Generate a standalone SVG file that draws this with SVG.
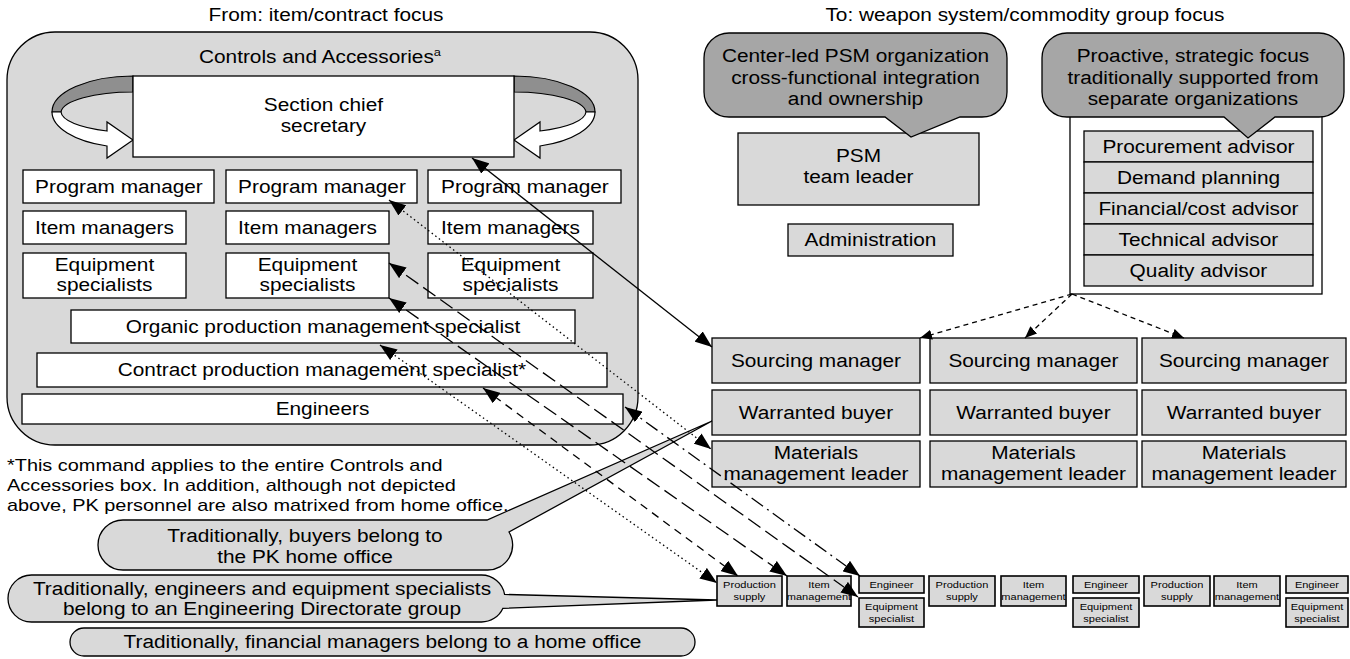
<svg xmlns="http://www.w3.org/2000/svg" width="1350" height="659" viewBox="0 0 1350 659">
<style>
text{font-family:"Liberation Sans",Arial,sans-serif;fill:#000;transform-box:fill-box}
.t{font-size:17.8px;text-anchor:middle;transform:scaleX(1.17);transform-origin:50% 50%}
.f{font-size:17px;text-anchor:start;transform:scaleX(1.17);transform-origin:0% 50%}
.s{font-size:9.6px;text-anchor:middle;transform:scaleX(1.15);transform-origin:50% 50%}
.w{fill:#fff;stroke:#000;stroke-width:1.3}
.g{fill:#d9d9d9;stroke:#000;stroke-width:1.3}
.d{fill:#a6a6a6;stroke:#000;stroke-width:1.3}
.sb{fill:#d9d9d9;stroke:#000;stroke-width:1.6}
.c{fill:none;stroke:#000;stroke-width:1.3}
.solid{marker-start:url(#ah);marker-end:url(#ah)}
.dot{stroke-dasharray:1.5 3;marker-start:url(#ah);marker-end:url(#ah)}
.ld{stroke-dasharray:15 6;marker-start:url(#ah);marker-end:url(#ah)}
.sd{stroke-dasharray:8 6;marker-start:url(#ah);marker-end:url(#ah)}
.dd{stroke-dasharray:14 5 2 5;marker-start:url(#ah);marker-end:url(#ah)}
.fd{stroke-dasharray:5 4;marker-end:url(#ahs)}
</style>
<defs>
<marker id="ah" viewBox="0 0 17 13" refX="17" refY="6.5" markerWidth="17" markerHeight="13" markerUnits="userSpaceOnUse" orient="auto-start-reverse"><path d="M0,0 L17,6.5 L0,13 Z" fill="#000"/></marker>
<marker id="ahs" viewBox="0 0 12 10" refX="12" refY="5" markerWidth="12" markerHeight="10" markerUnits="userSpaceOnUse" orient="auto"><path d="M0,0 L12,5 L0,10 Z" fill="#000"/></marker>
<g id="ribbon">
<path d="M133,76 A81,36 0 0 0 52,112 L61,112 A72,21 0 0 1 133,92 Z" fill="#8f8f8f" stroke="#000" stroke-width="1.2"/>
<path d="M52,112 A81,36 0 0 0 107,146 L107,158 L133,140 L107,122 L107,131 A72,21 0 0 1 61,112 Z" fill="#fff" stroke="#000" stroke-width="1.2"/>
</g>
</defs>

<text class="t" x="326" y="21">From: item/contract focus</text>
<text class="t" x="1025" y="21">To: weapon system/commodity group focus</text>

<g id="controls-accessories">
<rect x="7" y="32" width="631" height="413" rx="48" class="g"/>
<text class="t" x="320" y="63">Controls and Accessories<tspan font-size="11" dy="-7">a</tspan></text>
</g>

<g id="section-chief">
<use href="#ribbon"/>
<use href="#ribbon" transform="translate(647,0) scale(-1,1)"/>
<rect x="133" y="76" width="381" height="81" class="w"/>
<text class="t" x="323.5" y="111">Section chief</text>
<text class="t" x="323.5" y="132">secretary</text>
</g>

<g id="program-manager-1"><rect x="23" y="170" width="191" height="33" class="w"/><text class="t" x="119" y="193">Program manager</text></g>
<g id="program-manager-2"><rect x="226" y="170" width="191" height="33" class="w"/><text class="t" x="322" y="193">Program manager</text></g>
<g id="program-manager-3"><rect x="428" y="170" width="193" height="33" class="w"/><text class="t" x="525" y="193">Program manager</text></g>

<g id="item-managers-1"><rect x="23" y="211" width="163" height="33" class="w"/><text class="t" x="104.5" y="234">Item managers</text></g>
<g id="item-managers-2"><rect x="226" y="211" width="163" height="33" class="w"/><text class="t" x="307.5" y="234">Item managers</text></g>
<g id="item-managers-3"><rect x="428" y="211" width="165" height="33" class="w"/><text class="t" x="510.5" y="234">Item managers</text></g>

<g id="equipment-specialists-1"><rect x="23" y="253" width="163" height="45" class="w"/><text class="t" x="104.5" y="271">Equipment</text><text class="t" x="104.5" y="291">specialists</text></g>
<g id="equipment-specialists-2"><rect x="226" y="253" width="163" height="45" class="w"/><text class="t" x="307.5" y="271">Equipment</text><text class="t" x="307.5" y="291">specialists</text></g>
<g id="equipment-specialists-3"><rect x="428" y="253" width="165" height="45" class="w"/><text class="t" x="510.5" y="271">Equipment</text><text class="t" x="510.5" y="291">specialists</text></g>

<g id="organic-pms"><rect x="71" y="310" width="504" height="33" class="w"/><text class="t" x="323" y="333">Organic production management specialist</text></g>
<g id="contract-pms"><rect x="37" y="353" width="570" height="34" class="w"/><text class="t" x="322" y="376">Contract production management specialist*</text></g>
<g id="engineers"><rect x="22" y="394" width="601" height="30" class="w"/><text class="t" x="322.5" y="415">Engineers</text></g>

<g id="footnote">
<text class="f" x="7" y="471">*This command applies to the entire Controls and</text>
<text class="f" x="7" y="491">Accessories box.  In addition, although not depicted</text>
<text class="f" x="7" y="511">above, PK personnel are also matrixed from home office.</text>
</g>

<g id="psm-team-leader"><rect x="738" y="133" width="241" height="72" class="g"/><text class="t" x="858.5" y="162">PSM</text><text class="t" x="858.5" y="183">team leader</text></g>
<g id="administration"><rect x="788" y="224" width="165" height="32" class="g"/><text class="t" x="870.5" y="246">Administration</text></g>

<g id="advisors">
<rect x="1070" y="100" width="252" height="194" class="w"/>
<rect x="1084" y="131" width="229" height="31" class="g"/><text class="t" x="1198.5" y="153">Procurement advisor</text>
<rect x="1084" y="162" width="229" height="31" class="g"/><text class="t" x="1198.5" y="184">Demand planning</text>
<rect x="1084" y="193" width="229" height="31" class="g"/><text class="t" x="1198.5" y="215">Financial/cost advisor</text>
<rect x="1084" y="224" width="229" height="31" class="g"/><text class="t" x="1198.5" y="246">Technical advisor</text>
<rect x="1084" y="255" width="229" height="31" class="g"/><text class="t" x="1198.5" y="277">Quality advisor</text>
</g>

<g id="callout-center-led">
<path d="M729,33 H982 A25,25 0 0 1 1007,58 V92 A25,25 0 0 1 982,117 H960 L911,137 L885,117 H729 A25,25 0 0 1 704,92 V58 A25,25 0 0 1 729,33 Z" class="d"/>
<text class="t" x="855.5" y="62">Center-led PSM organization</text>
<text class="t" x="855.5" y="84">cross-functional integration</text>
<text class="t" x="855.5" y="105">and ownership</text>
</g>
<g id="callout-proactive">
<path d="M1067,33 H1319 A25,25 0 0 1 1344,58 V92 A25,25 0 0 1 1319,117 H1275 L1248,138 L1224,117 H1067 A25,25 0 0 1 1042,92 V58 A25,25 0 0 1 1067,33 Z" class="d"/>
<text class="t" x="1193" y="62">Proactive, strategic focus</text>
<text class="t" x="1193" y="84">traditionally supported from</text>
<text class="t" x="1193" y="105">separate organizations</text>
</g>

<g id="sourcing-1"><rect x="712" y="338" width="208" height="45" class="g"/><text class="t" x="816" y="367">Sourcing manager</text></g>
<g id="sourcing-2"><rect x="930" y="338" width="207" height="45" class="g"/><text class="t" x="1033.5" y="367">Sourcing manager</text></g>
<g id="sourcing-3"><rect x="1142" y="338" width="204" height="45" class="g"/><text class="t" x="1244" y="367">Sourcing manager</text></g>
<g id="buyer-1"><rect x="712" y="390" width="208" height="45" class="g"/><text class="t" x="816" y="419">Warranted buyer</text></g>
<g id="buyer-2"><rect x="930" y="390" width="207" height="45" class="g"/><text class="t" x="1033.5" y="419">Warranted buyer</text></g>
<g id="buyer-3"><rect x="1142" y="390" width="204" height="45" class="g"/><text class="t" x="1244" y="419">Warranted buyer</text></g>
<g id="materials-1"><rect x="712" y="441" width="208" height="46" class="g"/><text class="t" x="816" y="459">Materials</text><text class="t" x="816" y="480">management leader</text></g>
<g id="materials-2"><rect x="930" y="441" width="207" height="46" class="g"/><text class="t" x="1033.5" y="459">Materials</text><text class="t" x="1033.5" y="480">management leader</text></g>
<g id="materials-3"><rect x="1142" y="441" width="204" height="46" class="g"/><text class="t" x="1244" y="459">Materials</text><text class="t" x="1244" y="480">management leader</text></g>

<g id="production-supply-1"><rect x="717" y="576" width="65" height="30" class="sb"/><text class="s" x="749.5" y="588">Production</text><text class="s" x="749.5" y="600">supply</text></g>
<g id="item-management-1"><rect x="787" y="576" width="64" height="30" class="sb"/><text class="s" x="819" y="588">Item</text><text class="s" x="819" y="600">management</text></g>
<g id="engineer-1"><rect x="859" y="576" width="65" height="17" class="sb"/><text class="s" x="891.5" y="588">Engineer</text></g>
<g id="equipment-specialist-1"><rect x="859" y="598" width="65" height="29" class="sb"/><text class="s" x="891.5" y="610">Equipment</text><text class="s" x="891.5" y="622">specialist</text></g>

<g id="production-supply-2"><rect x="929" y="576" width="66" height="30" class="sb"/><text class="s" x="962" y="588">Production</text><text class="s" x="962" y="600">supply</text></g>
<g id="item-management-2"><rect x="1001" y="576" width="65" height="30" class="sb"/><text class="s" x="1033.5" y="588">Item</text><text class="s" x="1033.5" y="600">management</text></g>
<g id="engineer-2"><rect x="1073" y="576" width="66" height="17" class="sb"/><text class="s" x="1106" y="588">Engineer</text></g>
<g id="equipment-specialist-2"><rect x="1073" y="598" width="66" height="29" class="sb"/><text class="s" x="1106" y="610">Equipment</text><text class="s" x="1106" y="622">specialist</text></g>

<g id="production-supply-3"><rect x="1144" y="576" width="66" height="30" class="sb"/><text class="s" x="1177" y="588">Production</text><text class="s" x="1177" y="600">supply</text></g>
<g id="item-management-3"><rect x="1214" y="576" width="66" height="30" class="sb"/><text class="s" x="1247" y="588">Item</text><text class="s" x="1247" y="600">management</text></g>
<g id="engineer-3"><rect x="1286" y="576" width="62" height="17" class="sb"/><text class="s" x="1317" y="588">Engineer</text></g>
<g id="equipment-specialist-3"><rect x="1286" y="598" width="62" height="29" class="sb"/><text class="s" x="1317" y="610">Equipment</text><text class="s" x="1317" y="622">specialist</text></g>

<g id="callout-buyers">
<path d="M123,520 H487 L712,421 L509,532 A25,25 0 0 1 487,570 H123 A25,25 0 0 1 123,520 Z" class="g"/>
<text class="t" x="305" y="542">Traditionally, buyers belong to</text>
<text class="t" x="305" y="563">the PK home office</text>
</g>
<g id="callout-engineers">
<path d="M31.5,575 H481.5 A23.5,23.5 0 0 1 504.6,594.4 L717,600 L502.8,608.4 A23.5,23.5 0 0 1 481.5,622 H31.5 A23.5,23.5 0 0 1 31.5,575 Z" class="g"/>
<text class="t" x="262" y="595">Traditionally, engineers and equipment specialists</text>
<text class="t" x="262" y="615">belong to an Engineering Directorate group</text>
</g>
<g id="callout-financial">
<rect x="70" y="628" width="625" height="28" rx="14" class="g"/>
<text class="t" x="382.5" y="648">Traditionally, financial managers belong to a home office</text>
</g>

<g id="connectors">
<path class="c fd" d="M1072,294 L920,338"/>
<path class="c fd" d="M1072,294 L1025,338"/>
<path class="c fd" d="M1072,294 L1184,338"/>
<path class="c solid" d="M472,158 L712,347"/>
<path class="c dot" d="M389,200 L711,449"/>
<path class="c ld" d="M389,263 L858,597"/>
<path class="c ld" d="M389,298 L787,576"/>
<path class="c dot" d="M380,345 L717,583"/>
<path class="c sd" d="M483,388 L738,576"/>
<path class="c dd" d="M625,407 L860,576"/>
</g>
</svg>
